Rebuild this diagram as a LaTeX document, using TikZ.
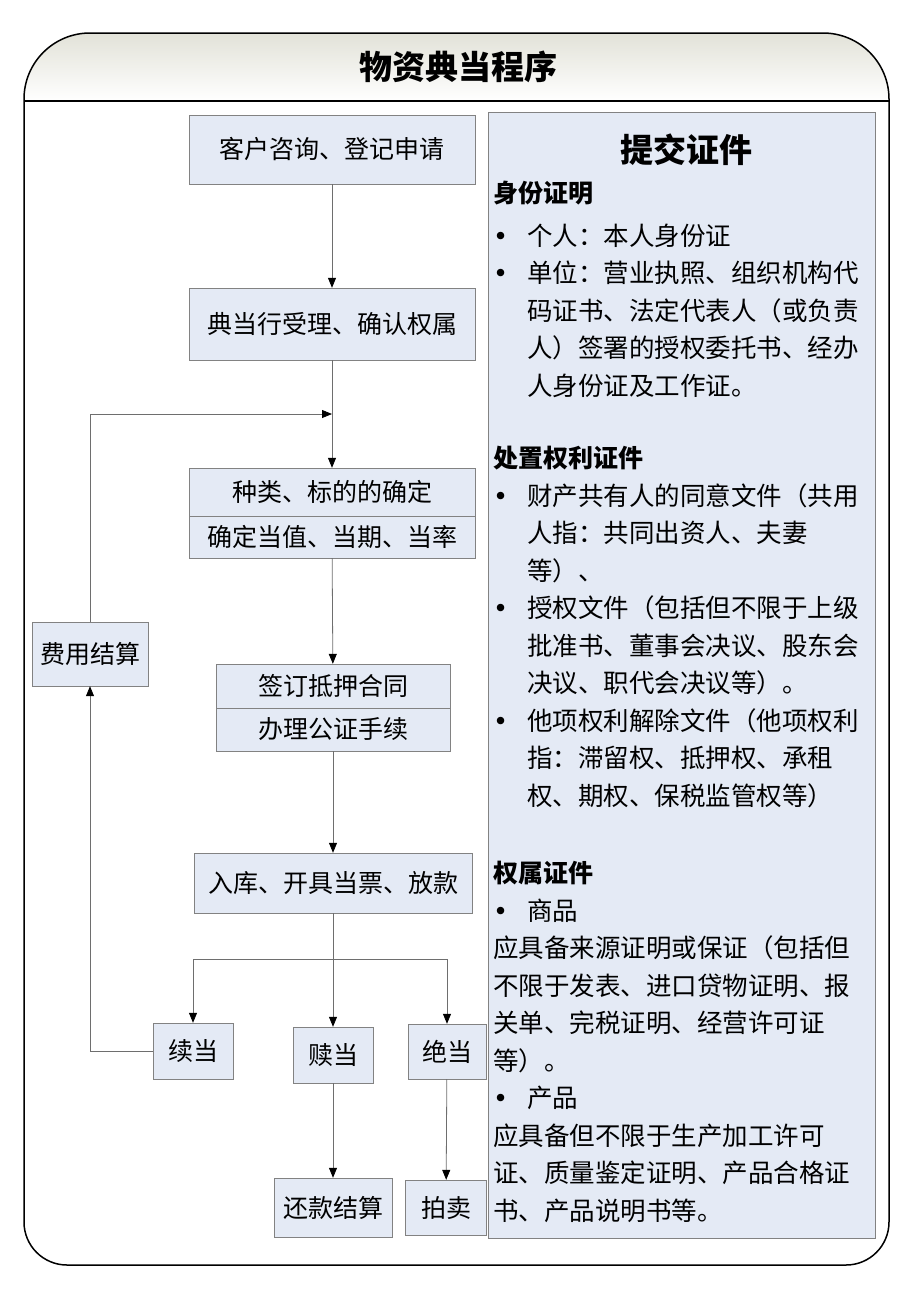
\documentclass[tikz,border=0pt]{standalone}
\usepackage{fontspec}
\setmainfont{Noto Sans CJK SC}
\newfontfamily\dotfont{DejaVu Sans}
\usetikzlibrary{arrows.meta}
\definecolor{boxfill}{RGB}{228,234,245}
\definecolor{boxline}{RGB}{130,130,130}
\definecolor{linkgray}{RGB}{110,110,110}
\definecolor{bandtop}{RGB}{226,226,216}
\newcommand{\boxfont}{\fontsize{25}{30}\selectfont}
\newcommand{\listfont}{\fontsize{25.5}{37.5}\selectfont}
\newcommand{\itemdot}{\makebox[34pt][l]{\dotfont •}}
\newcommand{\itemgap}{\hspace*{34pt}}
\tikzstyle{process} = [rectangle, inner sep=0pt, text centered, draw=boxline, fill=boxfill, font=\boxfont]
\tikzstyle{arrow} = [draw=linkgray, line width=0.8pt, -{Triangle[length=10pt,width=8pt,color=black]}]
\tikzstyle{link} = [draw=linkgray, line width=0.8pt]
\tikzstyle{head} = [anchor=base west, inner sep=0pt, font=\fontsize{25}{30}\selectfont\bfseries]
\tikzstyle{textblock} = [anchor=base west, inner sep=0pt, text width=380pt, align=left, font=\listfont]

\begin{document}
\begin{tikzpicture}[x=1pt, y=-1pt]
\useasboundingbox (0,0) rectangle (920,1302);
% frame with title band
\shade[top color=bandtop, bottom color=white] (24,101) -- (24,99) arc[start angle=180,end angle=90,radius=66pt] -- (823,33) arc[start angle=90,end angle=0,radius=66pt] -- (889,101) -- cycle;
\draw[line width=1.5pt] (24,1222) -- (24,99) arc[start angle=180,end angle=90,radius=66pt] -- (823,33) arc[start angle=90,end angle=0,radius=66pt] -- (889,1222) arc[start angle=0,end angle=-90,radius=43pt] -- (67,1265) arc[start angle=270,end angle=180,radius=43pt] -- cycle;
\draw[line width=1.5pt] (24,101) -- (889,101);
\node (title) at (458,67) [font=\fontsize{33}{40}\selectfont\bfseries] {物资典当程序};

% flow
\node (consult) [process, minimum width=286pt, minimum height=69pt] at (332,149.5) {客户咨询、登记申请};
\node (accept) [process, minimum width=286pt, minimum height=72pt] at (332,324) {典当行受理、确认权属};
\node (kind) [process, minimum width=286pt, minimum height=48pt] at (332,492) {种类、标的的确定};
\node (value) [process, minimum width=286pt, minimum height=42pt] at (332,537) {确定当值、当期、当率};
\node (sign) [process, minimum width=234pt, minimum height=44pt] at (333,686) {签订抵押合同};
\node (notary) [process, minimum width=234pt, minimum height=43pt] at (333,729.5) {办理公证手续};
\node (fee) [process, minimum width=116pt, minimum height=64pt] at (90,654) {费用结算};
\node (store) [process, minimum width=278pt, minimum height=60pt] at (333,883) {入库、开具当票、放款};
\node (renew) [process, minimum width=80pt, minimum height=56pt] at (193,1051) {续当};
\node (redeem) [process, minimum width=80pt, minimum height=56pt] at (333,1055) {赎当};
\node (dead) [process, minimum width=78pt, minimum height=55pt] at (447,1051.5) {绝当};
\node (repay) [process, minimum width=118pt, minimum height=59pt] at (333,1207.5) {还款结算};
\node (auction) [process, minimum width=81pt, minimum height=55pt] at (446,1207.5) {拍卖};

\coordinate (merge) at (332,414);
\coordinate (branch) at (333,959);
\draw [arrow] (consult) -- (accept);
\draw [arrow] (accept) -- (kind);
\draw [arrow] (fee) |- (merge);
\draw [arrow] (renew) -| (fee);
\draw [arrow] (value) -- (sign);
\draw [arrow] (notary) -- (store);
\draw [link] (store) -- (branch);
\draw [arrow] (branch) -- (redeem);
\draw [arrow] (branch) -| (renew);
\draw [arrow] (branch) -| (dead);
\draw [arrow] (redeem) -- (repay);
\draw [arrow] (dead) -- (auction);

% documents panel
\node (docs) [rectangle, draw=boxline, fill=boxfill, minimum width=387pt, minimum height=1126pt, inner sep=0pt] at (681.5,675) {};
\node (docstitle) at (686,150) [font=\fontsize{33}{40}\selectfont\bfseries] {提交证件};
\node (idhead) [head] at (493,202.5) {身份证明};
\node (idlist) [textblock] at (493,245) {\itemdot 个人：本人身份证\\
\itemdot 单位：营业执照、组织机构代\\
\itemgap 码证书、法定代表人（或负责\\
\itemgap 人）签署的授权委托书、经办\\
\itemgap 人身份证及工作证。};
\node (rightshead) [head] at (493,467) {处置权利证件};
\node (rightslist) [textblock] at (493,505) {\itemdot 财产共有人的同意文件（共用\\
\itemgap 人指：共同出资人、夫妻\\
\itemgap 等）、\\
\itemdot 授权文件（包括但不限于上级\\
\itemgap 批准书、董事会决议、股东会\\
\itemgap 决议、职代会决议等）。\\
\itemdot 他项权利解除文件（他项权利\\
\itemgap 指：滞留权、抵押权、承租\\
\itemgap 权、期权、保税监管权等）};
\node (ownhead) [head] at (493,882) {权属证件};
\node (ownlist) [textblock] at (493,920) {\itemdot 商品\\
应具备来源证明或保证（包括但\\
不限于发表、进口贷物证明、报\\
关单、完税证明、经营许可证\\
等）。\\
\itemdot 产品\\
应具备但不限于生产加工许可\\
证、质量鉴定证明、产品合格证\\
书、产品说明书等。};
\end{tikzpicture}
\end{document}
